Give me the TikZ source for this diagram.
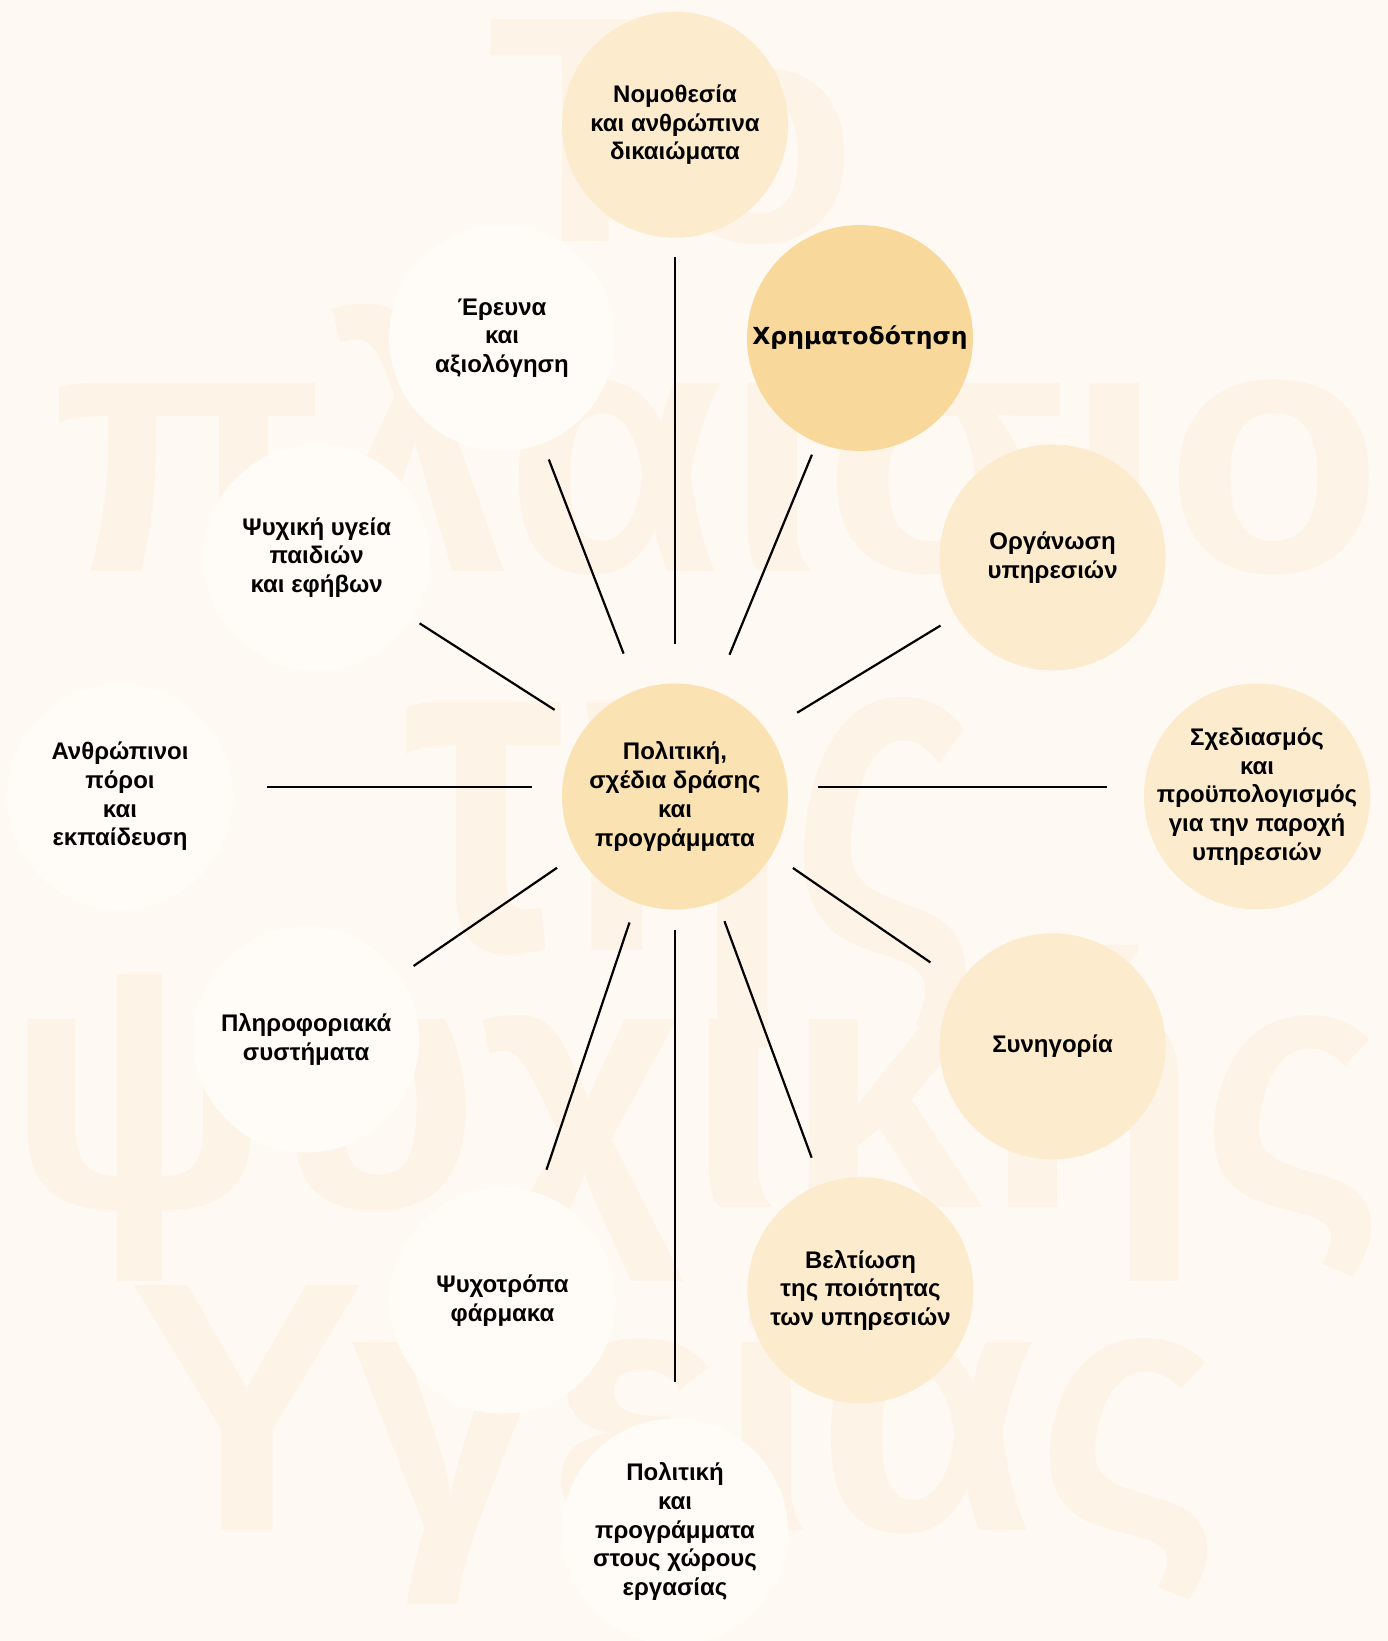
\documentclass[tikz,border=0pt]{standalone}
\usepackage{fontspec}
\setmainfont{Liberation Sans}
\newfontfamily\fundfont{DejaVu Sans}
\usepackage{tikz}
\definecolor{bgcream}{RGB}{254,249,243}
\definecolor{wmcream}{RGB}{253,243,230}
\definecolor{palewhite}{RGB}{255,252,248}
\definecolor{peach}{RGB}{253,235,206}
\definecolor{apricot}{RGB}{251,226,178}
\definecolor{amber}{RGB}{249,217,155}
\newcommand{\wmfont}[1]{\fontsize{#1}{#1}\selectfont\bfseries}

\begin{document}
\begin{tikzpicture}[x=1pt,y=-1pt,
  topic/.style={circle,minimum size=226pt,inner sep=0pt,align=center,
    font=\fontsize{24}{28.7}\selectfont\bfseries},
  wmark/.style={anchor=base west,inner sep=0pt,text=wmcream},
  spoke/.style={line width=2.2pt,shorten <=143pt}]
\fill[bgcream] (0,0) rectangle (1388,1641);
\useasboundingbox (0,0) rectangle (1388,1641);
\node[wmark,font=\wmfont{322}] (wm1) at (487,241) {Το};
\node[wmark,font=\wmfont{356}] (wm2) at (52,571) {πλαίσιο};
\node[wmark,font=\wmfont{470},xscale=0.78] (wm3) at (403,950) {της};
\node[wmark,font=\wmfont{356}] (wm4) at (5,1207) {ψυχικής};
\node[wmark,font=\wmfont{356}] (wm5) at (128,1530) {Υγείας};
\node[topic,fill=apricot] (pol) at (675,796.5) {Πολιτική,\\σχέδια δράσης\\και\\προγράμματα};
\node[topic,fill=peach] (nom) at (675,124.7) {Νομοθεσία\\και ανθρώπινα\\δικαιώματα};
\node[topic,fill=palewhite] (ere) at (502,338) {Έρευνα\\και\\αξιολόγηση};
\node[topic,fill=amber,font=\fundfont\fontsize{23.5}{28}\selectfont\bfseries] (xrh) at (860,338) {Χρηματοδότηση};
\node[topic,fill=palewhite] (psy) at (316.7,557.4) {Ψυχική υγεία\\παιδιών\\και εφήβων};
\node[topic,fill=peach] (org) at (1052.6,557.4) {Οργάνωση\\υπηρεσιών};
\node[topic,fill=palewhite] (anth) at (120,796.5) {Ανθρώπινοι\\πόροι\\και\\εκπαίδευση};
\node[topic,fill=peach,inner sep=-12pt] (sxe) at (1257,796.5) {Σχεδιασμός\\και\\προϋπολογισμός\\για την παροχή\\υπηρεσιών};
\node[topic,fill=palewhite] (pli) at (306.2,1039.5) {Πληροφοριακά\\συστήματα};
\node[topic,fill=peach] (syn) at (1052.6,1046.3) {Συνηγορία};
\node[topic,fill=palewhite] (psf) at (502.5,1300.7) {Ψυχοτρόπα\\φάρμακα};
\node[topic,fill=peach] (vel) at (860.5,1290.2) {Βελτίωση\\της ποιότητας\\των υπηρεσιών};
\node[topic,fill=palewhite] (erg) at (675,1531.5) {Πολιτική\\και\\προγράμματα\\στους χώρους\\εργασίας};
\coordinate (hub) at ([yshift=9.5pt]pol.center);
\draw[spoke,shorten >=19pt] (hub) -- (nom);
\draw[spoke,shorten >=17pt] (hub) -- (ere);
\draw[spoke,shorten >=13pt] (hub) -- (xrh);
\draw[spoke,shorten >=9pt] (hub) -- (psy);
\draw[spoke,shorten >=18pt] (hub) -- (org);
\draw[spoke,shorten >=147pt] (hub) -- (hub -| anth);
\draw[spoke,shorten >=150pt] (hub) -- (hub -| sxe);
\draw[spoke,shorten >=17pt] (hub) -- (pli);
\draw[spoke,shorten >=35pt] (hub) -- (syn);
\draw[spoke,shorten >=25pt] (hub) -- (psf);
\draw[spoke,shorten >=28pt] (hub) -- (vel);
\draw[spoke,shorten >=36pt] (hub) -- (erg);
\end{tikzpicture}
\end{document}
